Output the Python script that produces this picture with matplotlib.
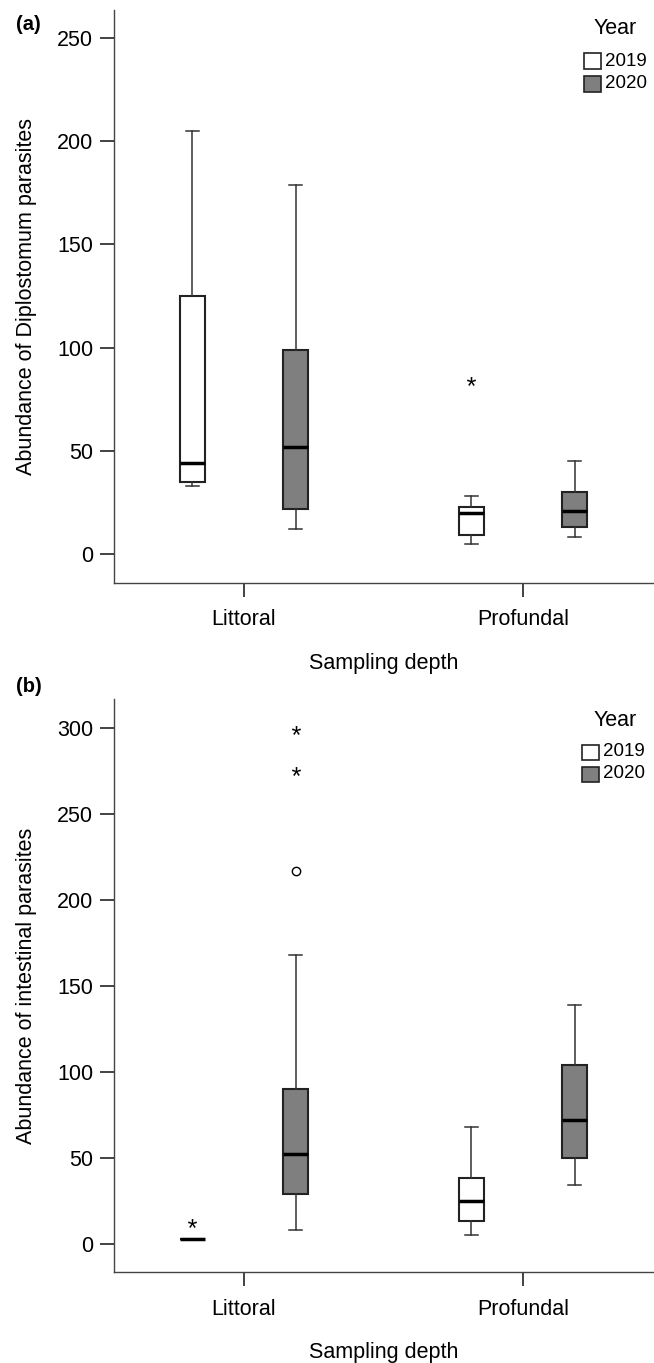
import matplotlib
matplotlib.use("Agg")
import matplotlib.pyplot as plt
from matplotlib.patches import Rectangle

plt.rcParams['font.family'] = ['Liberation Sans', 'DejaVu Sans']
plt.rcParams['mathtext.fontset'] = 'custom'
plt.rcParams['mathtext.rm'] = 'Liberation Sans'

# ====== DATA ======
depths = ['Littoral', 'Profundal']
years = ['2019', '2020']
year_colors = ['white', '#7f7f7f']

# order of boxes: Littoral 2019, Littoral 2020, Profundal 2019, Profundal 2020
dip_whislo = [33, 12, 5, 8]
dip_q1 = [35, 22, 9, 13]
dip_med = [44, 52, 20, 21]
dip_q3 = [125, 99, 23, 30]
dip_whishi = [205, 179, 28, 45]
dip_stars = [[], [], [84], []]
dip_circles = [[], [], [], []]

int_whislo = [3, 8, 5, 34]
int_q1 = [3, 29, 13, 50]
int_med = [3, 52, 25, 72]
int_q3 = [3, 90, 38, 104]
int_whishi = [3, 168, 68, 139]
int_stars = [[12], [275, 299], [], []]
int_circles = [[], [217], [], []]
# ===================

W, H = 654, 1363
DPI = 100
EDGE = '#222222'
FS = 15.5


def make_stats(lo, q1, med, q3, hi):
    return [dict(whislo=a, q1=b, med=c, q3=d, whishi=e, fliers=[])
            for a, b, c, d, e in zip(lo, q1, med, q3, hi)]


def draw_panel(ax, stats, stars, circles, ylim, yticks, ylabel):
    offset = 0.185
    positions = []
    for g in range(len(depths)):
        for k in range(len(years)):
            positions.append(g + 1 + (k - 0.5) * 2 * offset)
    res = ax.bxp(stats, positions=positions, widths=0.09, capwidths=0.045,
                 patch_artist=True, showfliers=False,
                 boxprops=dict(edgecolor=EDGE, linewidth=1.5),
                 medianprops=dict(color='black', linewidth=2.5),
                 whiskerprops=dict(color='#333333', linewidth=1.1),
                 capprops=dict(color='#333333', linewidth=1.1))
    for i, box in enumerate(res['boxes']):
        box.set_facecolor(year_colors[i % len(years)])
    for pos, vals in zip(positions, stars):
        if vals:
            ax.plot([pos] * len(vals), vals, ls='none', marker='$*$',
                    ms=6.5, color='black', mew=0)
    for pos, vals in zip(positions, circles):
        if vals:
            ax.plot([pos] * len(vals), vals, ls='none', marker='o', ms=6,
                    mfc='white', mec='black', mew=1.0)

    ax.set_xlim(0.534, 2.469)
    ax.set_ylim(*ylim)
    ax.set_xticks([1, 2])
    ax.set_xticklabels(depths)
    ax.set_yticks(yticks)
    for s in ['top', 'right']:
        ax.spines[s].set_visible(False)
    for s in ['left', 'bottom']:
        ax.spines[s].set_color('#444444')
        ax.spines[s].set_linewidth(1.0)
    ax.tick_params(axis='y', length=10, width=1.2, color=EDGE,
                   labelsize=FS, pad=5)
    ax.tick_params(axis='x', length=10, width=1.2, color=EDGE,
                   labelsize=FS, pad=9)
    ax.set_ylabel(ylabel, fontsize=FS)
    ax.yaxis.set_label_coords(-0.142, 0.5)
    ax.set_xlabel('Sampling depth', fontsize=FS)
    ax.xaxis.set_label_coords(0.5, -0.122)


def legend_block(fig, year_y, row_ys, px_left, text_left):
    fig.text(615 / W, 1 - year_y / H, 'Year', fontsize=FS,
             ha='center', va='center')
    for yc, col, lab in zip(row_ys, year_colors, years):
        fig.patches.append(Rectangle((px_left / W, 1 - (yc + 7.5) / H),
                                     17 / W, 15 / H, transform=fig.transFigure,
                                     facecolor=col, edgecolor=EDGE, lw=1.2))
        fig.text(text_left / W, 1 - yc / H, lab, fontsize=13.5,
                 ha='left', va='center')


fig = plt.figure(figsize=(W / DPI, H / DPI), dpi=DPI)

ax_a = fig.add_axes([114 / W, 1 - 583 / H, 1 - 114 / W, 573 / H])
draw_panel(ax_a, make_stats(dip_whislo, dip_q1, dip_med, dip_q3, dip_whishi),
           dip_stars, dip_circles, (-14.05, 263.6), [0, 50, 100, 150, 200, 250],
           'Abundance of Diplostomum parasites')

ax_b = fig.add_axes([114 / W, 1 - 1272.3 / H, 1 - 114 / W, 573 / H])
draw_panel(ax_b, make_stats(int_whislo, int_q1, int_med, int_q3, int_whishi),
           int_stars, int_circles, (-16.6, 316.6), [0, 50, 100, 150, 200, 250, 300],
           'Abundance of intestinal parasites')

fig.text(16 / W, 1 - 24 / H, '(a)', fontsize=14.5, fontweight='bold',
         ha='left', va='center')
fig.text(16 / W, 1 - 687 / H, '(b)', fontsize=14.5, fontweight='bold',
         ha='left', va='center')

legend_block(fig, 29, [61, 84], 584, 605)
legend_block(fig, 720, [752, 774], 582, 603)

fig.savefig('out.png', dpi=DPI)
